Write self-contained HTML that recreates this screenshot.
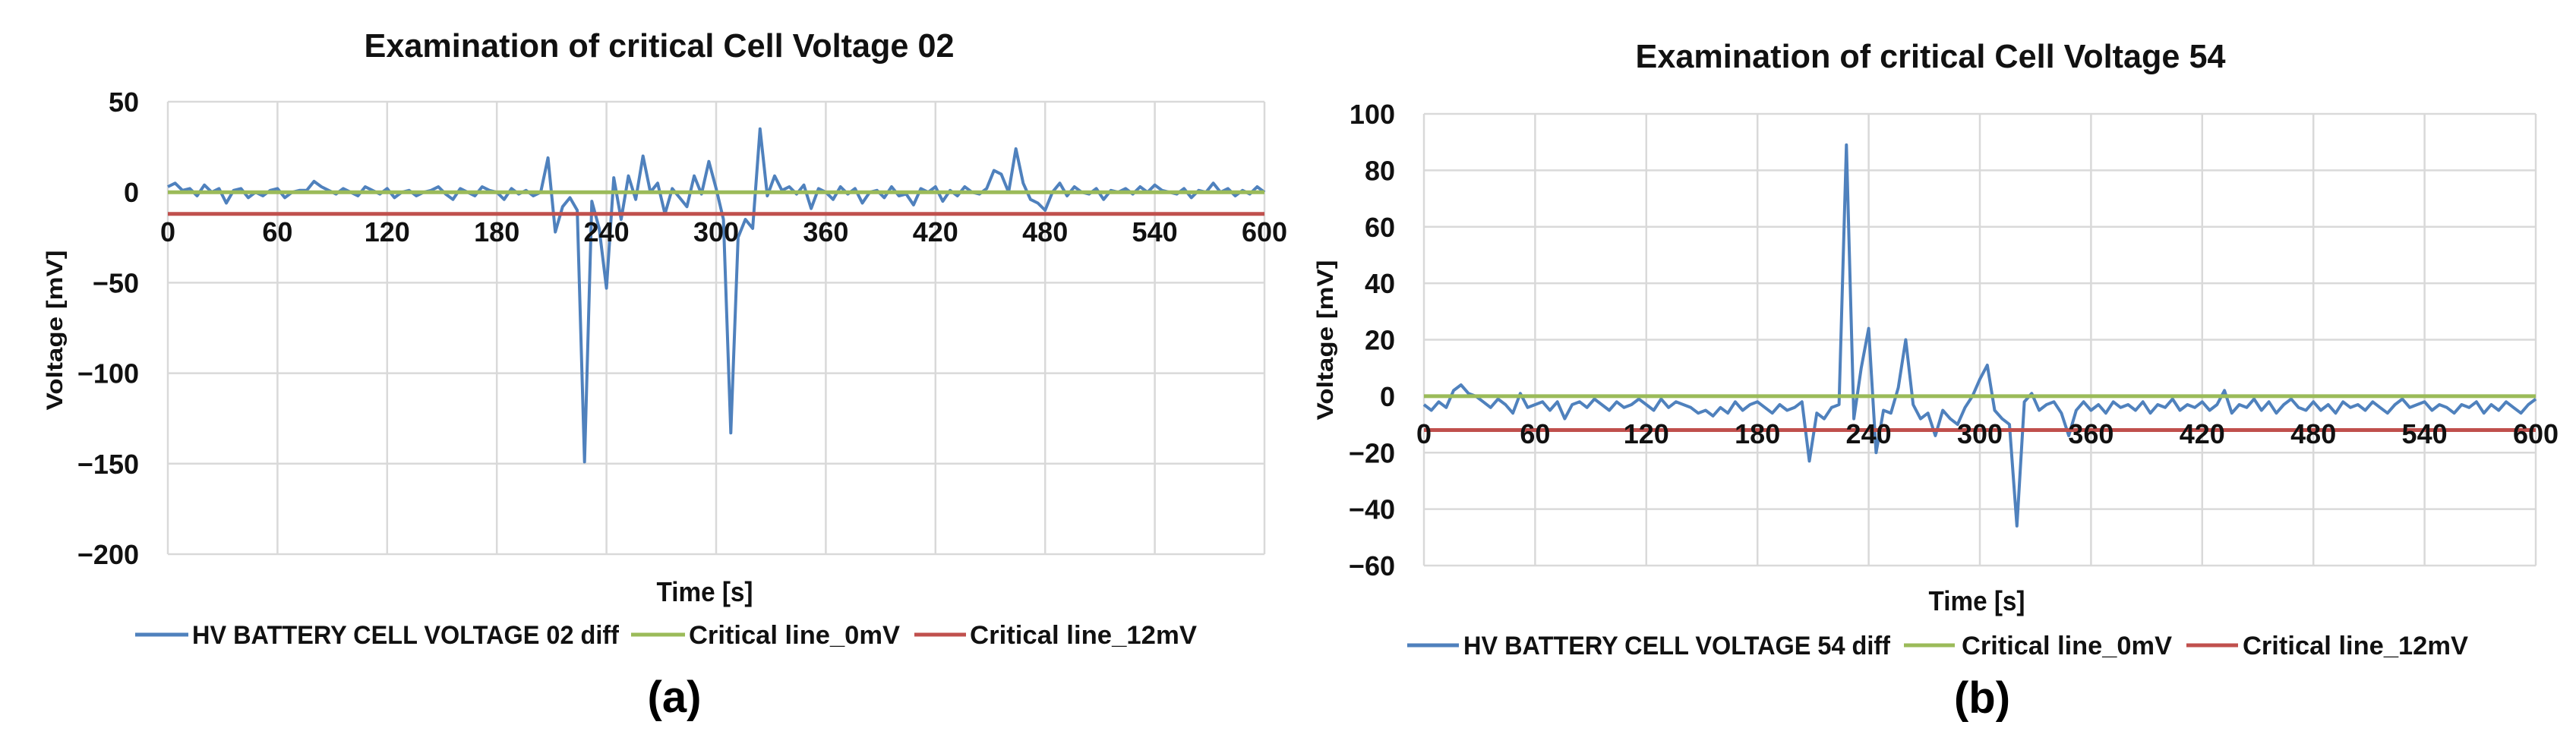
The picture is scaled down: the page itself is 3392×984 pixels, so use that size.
<!DOCTYPE html>
<html><head><meta charset="utf-8"><style>
html,body{margin:0;padding:0;background:#fff;}
svg{display:block;}
text{font-family:"Liberation Sans",sans-serif;}
</style></head><body>
<svg id="fig" xmlns="http://www.w3.org/2000/svg" width="3392" height="984" viewBox="0 0 3392 984"></svg>
<script>
const xTicks=[0,60,120,180,240,300,360,420,480,540,600];
const yTicksA=[50,0,-50,-100,-150,-200];
const yTicksB=[100,80,60,40,20,0,-20,-40,-60];
const stepSec=4;
const cell02=[3,5,1,2,-2,4,0,2,-6,1,2,-3,0,-2,1,
2,-3,0,1,1,6,3,1,-1,2,0,-2,3,1,-1,
2,-3,0,1,-2,0,1,3,-1,-4,2,0,-2,3,1,
0,-4,2,-1,1,-2,0,19,-22,-8,-3,-10,-149,-5,-20,
-53,8,-15,9,-4,20,0,5,-12,2,-3,-8,9,-1,17,
2,-15,-133,-25,-15,-20,35,-2,9,1,3,-1,4,-9,2,
0,-4,3,-1,2,-6,0,1,-3,3,-2,-1,-7,2,0,
3,-5,1,-2,3,0,-1,2,12,10,0,24,5,-4,-6,
-10,0,5,-2,3,0,-1,2,-4,1,0,2,-1,3,0,
4,1,0,-1,2,-3,1,0,5,0,2,-2,1,-1,3,0];
const cell54=[-3,-5,-2,-4,2,4,1,0,-2,-4,-1,-3,-6,1,-4,
-3,-2,-5,-2,-8,-3,-2,-4,-1,-3,-5,-2,-4,-3,-1,
-3,-5,-1,-4,-2,-3,-4,-6,-5,-7,-4,-6,-2,-5,-3,
-2,-4,-6,-3,-5,-4,-2,-23,-6,-8,-4,-3,89,-8,10,
24,-20,-5,-6,3,20,-3,-8,-6,-14,-5,-8,-10,-4,0,
6,11,-5,-8,-10,-46,-2,1,-5,-3,-2,-6,-14,-5,-2,
-5,-3,-6,-2,-4,-3,-5,-2,-6,-3,-4,-1,-5,-3,-4,
-2,-5,-3,2,-6,-3,-4,-1,-5,-2,-6,-3,-1,-4,-5,
-2,-5,-3,-6,-2,-4,-3,-5,-2,-4,-6,-3,-1,-4,-3,
-2,-5,-3,-4,-6,-3,-4,-2,-6,-3,-5,-2,-4,-6,-3,-1];
const criticalA=[0,-12];
const criticalB=[0,-12];

const NS='http://www.w3.org/2000/svg';
const svg=document.getElementById('fig');
function mk(tag,attrs,parent,txt){const e=document.createElementNS(NS,tag);for(const k in attrs)e.setAttribute(k,attrs[k]);if(txt!==undefined)e.textContent=txt;(parent||svg).appendChild(e);return e;}

function chart(cfg){
  const g=mk('g',{});
  
  
  const X=v=>cfg.left+(v-0)/600*(cfg.right-cfg.left);
  const Y=v=>cfg.top+(cfg.yMax-v)/(cfg.yMax-cfg.yMin)*(cfg.bottom-cfg.top);
  const t=mk('text',{x:cfg.titleX,y:cfg.titleY,'text-anchor':'middle','font-size':44,'font-weight':'bold',textLength:777,lengthAdjust:'spacingAndGlyphs',fill:'#111'},g,cfg.title);
  
  
  cfg.yTicks.forEach(v=>{
    const l=mk('line',{x1:cfg.left,x2:cfg.right,y1:Y(v),y2:Y(v),stroke:'#d9d9d9','stroke-width':2.5},g);
    
    
    const lb=mk('text',{x:cfg.left-38,y:Y(v)+13,'text-anchor':'end','font-size':36,'font-weight':'bold',fill:'#111'},g,String(v).replace('-','\u2212'));
    
    
  });
  xTicks.forEach(v=>{
    const l=mk('line',{x1:X(v),x2:X(v),y1:cfg.top,y2:cfg.bottom,stroke:'#d9d9d9','stroke-width':2.5},g);
    
    
  });
  const pts=cfg.data.map((v,i)=>X(i*stepSec).toFixed(1)+','+Y(v).toFixed(1)).join(' ');
  const s=mk('polyline',{points:pts,fill:'none',stroke:'#4f81bd','stroke-width':4,'stroke-linejoin':'round'},g);
  
  
  const gr=mk('line',{x1:X(0),x2:X(600),y1:Y(cfg.crit[0]),y2:Y(cfg.crit[0]),stroke:'#9bbb59','stroke-width':5},g);
  
  
  const rd=mk('line',{x1:X(0),x2:X(600),y1:Y(cfg.crit[1]),y2:Y(cfg.crit[1]),stroke:'#c0504d','stroke-width':5},g);
  
  
  xTicks.forEach(v=>{
    const lb=mk('text',{x:X(v),y:cfg.xLabY,'text-anchor':'middle','font-size':36,'font-weight':'bold',fill:'#111'},g,String(v));
    
    
  });
  const yt=mk('text',{x:0,y:0,'text-anchor':'middle','font-size':30,'font-weight':'bold',textLength:211,lengthAdjust:'spacingAndGlyphs',fill:'#111',transform:`translate(${cfg.yTitleX},${cfg.yTitleY}) rotate(-90)`},g,'Voltage [mV]');
  
  
  const xt=mk('text',{x:cfg.xTitleX,y:cfg.xTitleY+12,'text-anchor':'middle','font-size':36,'font-weight':'bold',textLength:127,lengthAdjust:'spacingAndGlyphs',fill:'#111'},g,'Time [s]');
  
  
  cfg.legend.forEach(e=>{
    const lg=mk('g',{},g);
    
    
    mk('line',{x1:e.l1,x2:e.l2,y1:cfg.legY,y2:cfg.legY,stroke:e.c,'stroke-width':5},lg);
    mk('text',{x:e.t1,y:cfg.legY+12,'font-size':34,'font-weight':'bold',textLength:e.t2-e.t1,lengthAdjust:'spacingAndGlyphs',fill:'#111'},lg,e.txt);
  });
  const cap=mk('text',{x:cfg.capX,y:cfg.capY+20,'text-anchor':'middle','font-size':58,'font-weight':'bold','font-family':'Liberation Serif, serif',fill:'#000'},g,cfg.cap);
  
  
}

chart({name:'chart-cell-02',title:'Examination of critical Cell Voltage 02',titleX:868,titleY:75,
  left:221,right:1665,top:134,bottom:730,yMax:50,yMin:-200,yTicks:yTicksA,data:cell02,crit:criticalA,
  xLabY:318,yTitleX:82,yTitleY:435,xTitleX:928,xTitleY:780,legY:836,
  legend:[{l1:178,l2:248,t1:253,t2:815,c:'#4f81bd',txt:'HV BATTERY CELL VOLTAGE 02 diff'},
          {l1:831,l2:902,t1:907,t2:1185,c:'#9bbb59',txt:'Critical line_0mV'},
          {l1:1204,l2:1272,t1:1277,t2:1576,c:'#c0504d',txt:'Critical line_12mV'}],
  capX:888,capY:918,cap:'(a)'});
chart({name:'chart-cell-54',title:'Examination of critical Cell Voltage 54',titleX:2542,titleY:89,
  left:1875,right:3339,top:150,bottom:745,yMax:100,yMin:-60,yTicks:yTicksB,data:cell54,crit:criticalB,
  xLabY:584,yTitleX:1755,yTitleY:448,xTitleX:2603,xTitleY:792,legY:850,
  legend:[{l1:1853,l2:1921,t1:1927,t2:2489,c:'#4f81bd',txt:'HV BATTERY CELL VOLTAGE 54 diff'},
          {l1:2507,l2:2574,t1:2583,t2:2860,c:'#9bbb59',txt:'Critical line_0mV'},
          {l1:2879,l2:2947,t1:2953,t2:3250,c:'#c0504d',txt:'Critical line_12mV'}],
  capX:2610,capY:919,cap:'(b)'});
</script>
</body></html>
